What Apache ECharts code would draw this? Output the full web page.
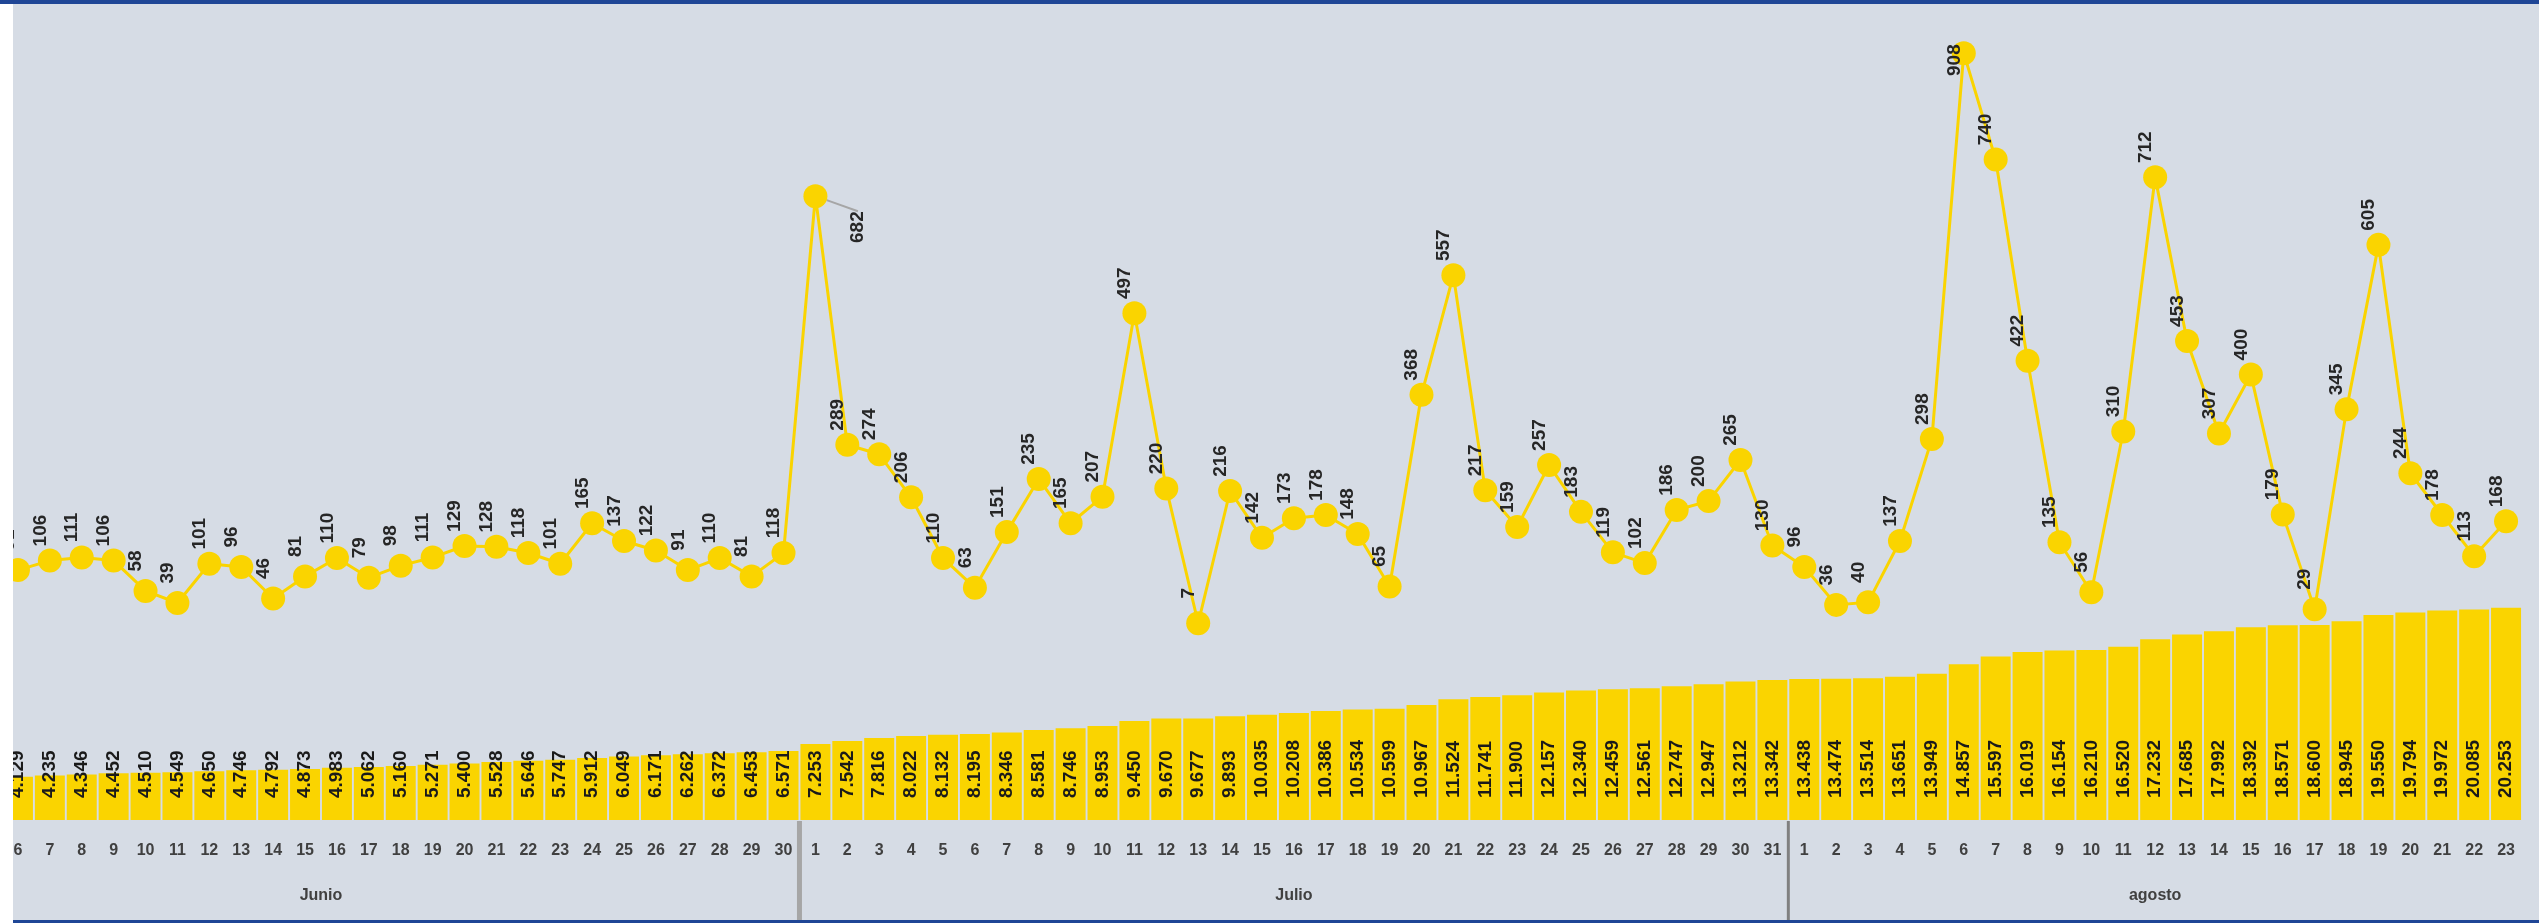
<!DOCTYPE html>
<html>
<head>
<meta charset="utf-8">
<script src="https://cdn.jsdelivr.net/npm/echarts@6/dist/echarts.min.js"></script>
<style>
  html, body { margin: 0; padding: 0; background: #d6dce5; }
  #chart { width: 2539px; height: 923px; }
</style>
</head>
<body>
<div id="chart"></div>
<script>
// dias mostrados: 6-30 junio, 1-31 julio, 1-23 agosto
const dayLabels = [
  '6', '7', '8', '9', '10', '11', '12', '13', '14', '15', '16', '17', '18', '19', '20', '21', '22', '23', '24', '25', '26', '27', '28', '29', '30',
  '1', '2', '3', '4', '5', '6', '7', '8', '9', '10', '11', '12', '13', '14', '15', '16', '17', '18', '19', '20', '21', '22', '23', '24', '25', '26', '27', '28', '29', '30', '31',
  '1', '2', '3', '4', '5', '6', '7', '8', '9', '10', '11', '12', '13', '14', '15', '16', '17', '18', '19', '20', '21', '22', '23'
]
const monthNames = ['Junio', 'Julio', 'agosto']
const monthFirstIndex = [0, 25, 56]
const monthHiddenDays = [5, 0, 0] // junio empieza el dia 1, recortado en la imagen

// casos nuevos por dia (linea)
const newCases = [
  91, 106, 111, 106, 58, 39, 101, 96, 46, 81, 110, 79, 98, 111, 129, 128, 118, 101, 165, 137, 122, 91, 110, 81, 118,
  682, 289, 274, 206, 110, 63, 151, 235, 165, 207, 497, 220, 7, 216, 142, 173, 178, 148, 65, 368, 557, 217, 159, 257, 183, 119, 102, 186, 200, 265, 130,
  96, 36, 40, 137, 298, 908, 740, 422, 135, 56, 310, 712, 453, 307, 400, 179, 29, 345, 605, 244, 178, 113, 168
]

// casos acumulados (barras)
const totalCases = [
  4129, 4235, 4346, 4452, 4510, 4549, 4650, 4746, 4792, 4873, 4983, 5062, 5160, 5271, 5400, 5528, 5646, 5747, 5912, 6049, 6171, 6262, 6372, 6453, 6571,
  7253, 7542, 7816, 8022, 8132, 8195, 8346, 8581, 8746, 8953, 9450, 9670, 9677, 9893, 10035, 10208, 10386, 10534, 10599, 10967, 11524, 11741, 11900, 12157, 12340, 12459, 12561, 12747, 12947, 13212, 13342,
  13438, 13474, 13514, 13651, 13949, 14857, 15597, 16019, 16154, 16210, 16520, 17232, 17685, 17992, 18392, 18571, 18600, 18945, 19550, 19794, 19972, 20085, 20253
]

const yellow = '#fad400'
const textDark = '#262626'
const font = 'Liberation Sans'

const fmtMiles = (v) => String(v).replace(/\B(?=(\d{3})+(?!\d))/g, '.')

// etiquetas desplazadas como en el original
const PEAK_JUL1 = 25
const PEAK_AGO6 = 61

const chart = echarts.init(document.getElementById('chart'))

const option = {
  backgroundColor: '#d6dce5',
  animation: false,
  grid: { left: 2, right: 17, top: 0, bottom: 103 },
  xAxis: {
    type: 'category',
    data: dayLabels,
    axisLine: { show: false },
    axisTick: { show: false },
    axisLabel: {
      interval: 0,
      margin: 23,
      fontSize: 16,
      fontWeight: 'bold',
      fontFamily: font,
      color: '#404040',
    },
  },
  yAxis: [
    { type: 'value', min: 0, max: 78200, show: false, splitLine: { show: false } },
    { type: 'value', min: -304, max: 992, show: false, splitLine: { show: false } },
  ],
  series: [
    {
      name: 'Acumulados',
      type: 'bar',
      data: totalCases,
      yAxisIndex: 0,
      barCategoryGap: '6%',
      itemStyle: { color: yellow },
      label: {
        show: true,
        position: 'insideBottom',
        distance: 22,
        rotate: 90,
        align: 'left',
        verticalAlign: 'middle',
        fontSize: 19,
        fontWeight: 'bold',
        fontFamily: font,
        color: '#1a1a1a',
        formatter: (p) => fmtMiles(p.value),
      },
    },
    {
      name: 'Nuevos',
      type: 'line',
      yAxisIndex: 1,
      data: newCases.map((v, i) => (i === PEAK_JUL1
        ? { value: v, labelLine: { show: true, lineStyle: { color: '#a6a6a6', width: 2 } } }
        : v)),
      symbol: 'circle',
      symbolSize: 24,
      lineStyle: { color: yellow, width: 3 },
      itemStyle: { color: yellow },
      z: 5,
      label: {
        show: true,
        position: 'top',
        distance: 18,
        rotate: 90,
        fontSize: 19,
        fontWeight: 'bold',
        fontFamily: font,
        color: textDark,
      },
      // dx/dy van en el sistema girado de la etiqueta
      labelLayout: (p) => {
        if (p.dataIndex === PEAK_JUL1) return { dx: -61, dy: 52 }
        if (p.dataIndex === PEAK_AGO6) return { dx: -37 }
        return {}
      },
    },
  ],
}

chart.setOption(option)

// meses y separadores calculados desde el eje de categorias
const x0 = chart.convertToPixel({ xAxisIndex: 0 }, 0)
const band = chart.convertToPixel({ xAxisIndex: 0 }, 1) - x0
const graphics = []
monthNames.forEach((name, m) => {
  const first = monthFirstIndex[m]
  const last = m + 1 < monthFirstIndex.length ? monthFirstIndex[m + 1] - 1 : dayLabels.length - 1
  const start = chart.convertToPixel({ xAxisIndex: 0 }, first) - band / 2 - monthHiddenDays[m] * band
  const end = chart.convertToPixel({ xAxisIndex: 0 }, last) + band / 2
  graphics.push({
    type: 'text',
    x: (start + end) / 2,
    y: 896,
    style: {
      text: name,
      font: 'bold 16px ' + font,
      fill: '#404040',
      align: 'center',
      verticalAlign: 'middle',
    },
  })
  if (m > 0) {
    const bx = chart.convertToPixel({ xAxisIndex: 0 }, first) - band / 2
    graphics.push({
      type: 'line',
      shape: { x1: bx, y1: 821, x2: bx, y2: 923 },
      style: { stroke: m === 1 ? '#a6a6a6' : '#808080', lineWidth: m === 1 ? 5 : 3 },
    })
  }
})
// borde blanco izquierdo y lineas azules superior/inferior
graphics.push({ type: 'rect', shape: { x: 0, y: 0, width: 13, height: 923 }, style: { fill: '#ffffff' }, z: 100 })
graphics.push({ type: 'rect', shape: { x: 0, y: 0, width: 2539, height: 4 }, style: { fill: '#1f4696' }, z: 100 })
graphics.push({ type: 'rect', shape: { x: 13, y: 920, width: 2526, height: 3 }, style: { fill: '#1f4696' }, z: 100 })

chart.setOption({ graphic: graphics })
</script>
</body>
</html>
